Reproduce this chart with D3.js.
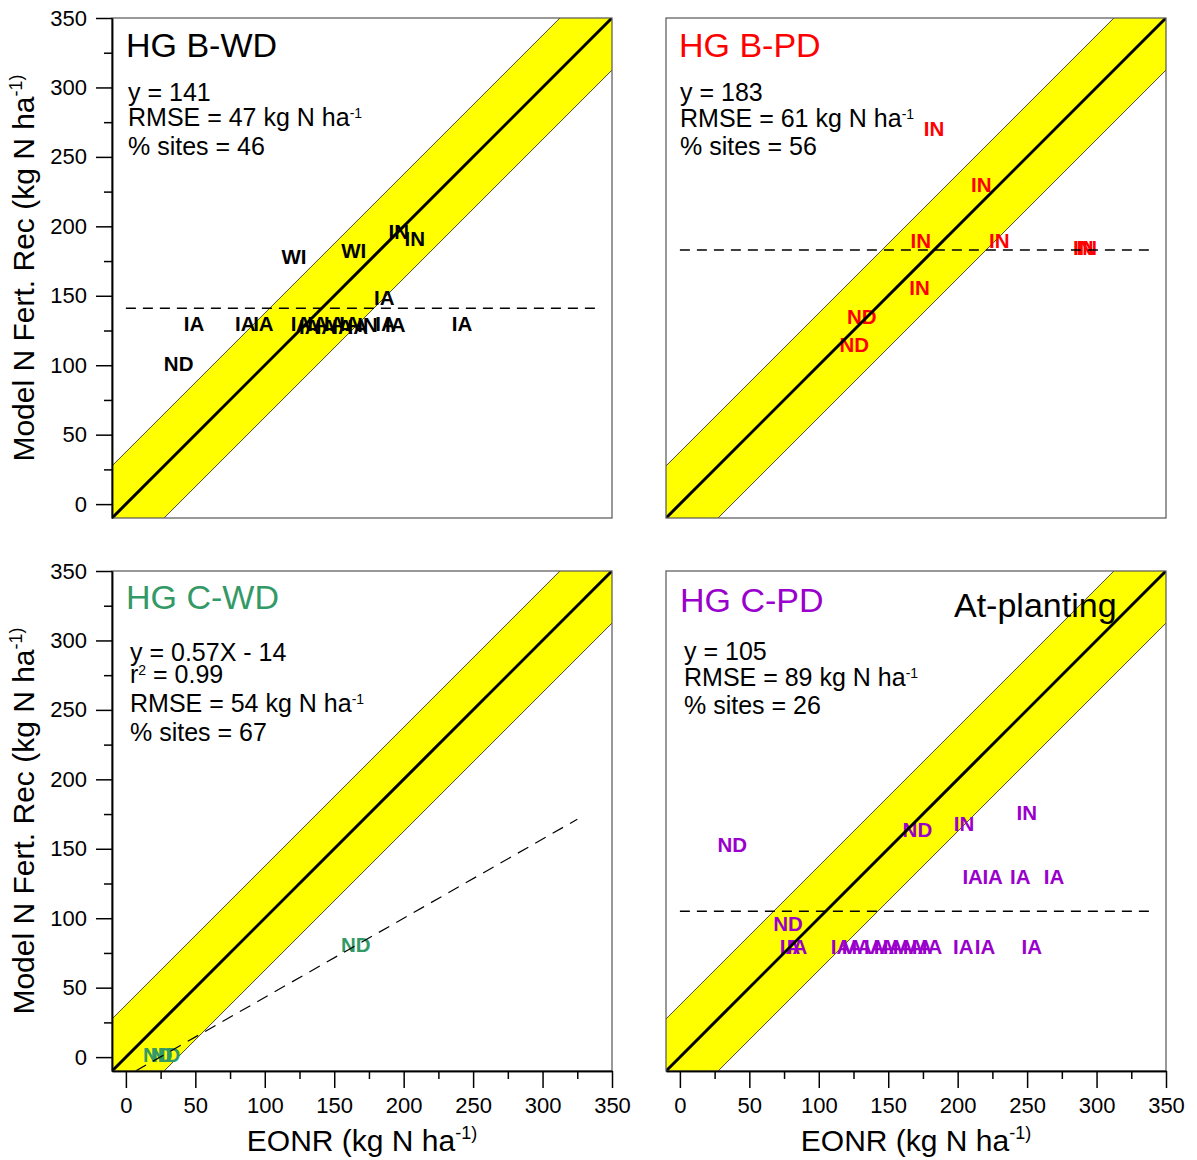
<!DOCTYPE html>
<html>
<head>
<meta charset="utf-8">
<script src="https://cdn.jsdelivr.net/npm/d3@7"></script>
<style>
  body { margin: 0; background: #fff; }
  svg text { font-family: "Liberation Sans", Arial, Helvetica, sans-serif; }
</style>
</head>
<body>
<svg id="chart" width="1197" height="1160"></svg>
<script>
// ---- data -------------------------------------------------------------
const axisDomain = [-10, 350];
const majorTicks = [0, 50, 100, 150, 200, 250, 300, 350];
const minorTicks = [25, 75, 125, 175, 225, 275, 325];
const bandHalfWidth = 37.5;          // +/- band around the 1:1 line

const panelTitles = ["HG B-WD", "HG B-PD", "HG C-WD", "HG C-PD"];
const panelColors = ["#000000", "#ff0000", "#339966", "#9900cc"];

// summary text, "^" marks a superscript
const statsBWD = ["y = 141", "RMSE = 47 kg N ha^-1", "% sites = 46"];
const statsBPD = ["y = 183", "RMSE = 61 kg N ha^-1", "% sites = 56"];
const statsCWD = ["y = 0.57X - 14", "r^2 = 0.99", "RMSE = 54 kg N ha^-1", "% sites = 67"];
const statsCPD = ["y = 105", "RMSE = 89 kg N ha^-1", "% sites = 26"];

// mean model recommendation (horizontal dashed lines); null = regression instead
const meanLines = [141, 183, null, 105];
const meanLineRange = [0, 340];
// C-WD regression: y = 0.57x - 14
const regSlope = 0.57;
const regIntercept = -14;
const regRange = [7, 325];

// site labels: [state, EONR, model N fert. rec]
const sitesBWD = [
  ["ND", 38, 101],
  ["IA", 49, 130], ["IA", 86, 130], ["IA", 99, 130],
  ["IA", 126, 130], ["IA", 132, 128], ["IA", 138, 130], ["IA", 144, 128],
  ["IA", 150, 130], ["IA", 156, 128], ["IA", 161, 130], ["IA", 167, 128],
  ["IN", 174, 129], ["IA", 187, 130], ["IA", 194, 129],
  ["IA", 242, 130], ["IA", 186, 149],
  ["WI", 121, 178], ["WI", 164, 182.5],
  ["IN", 196.5, 196], ["IN", 208, 191]
];
const sitesBPD = [
  ["IN", 183, 270], ["IN", 217, 230], ["IN", 173.5, 190], ["IN", 230, 190],
  ["IN", 290.5, 185], ["IN", 293, 185], ["IN", 172.5, 156],
  ["ND", 131, 135], ["ND", 125.5, 115]
];
const sitesCWD = [
  ["ND", 165.5, 81], ["ND", 23, 2], ["ND", 28.5, 2]
];
const sitesCPD = [
  ["ND", 37.7, 153], ["ND", 77.8, 96], ["ND", 171, 163.5],
  ["IN", 204.6, 168], ["IN", 249.7, 176],
  ["IA", 210.8, 130], ["IA", 225.2, 130], ["IA", 245.1, 130], ["IA", 269.4, 130],
  ["IA", 79.3, 79.5], ["IA", 84.3, 79.5],
  ["IA", 116, 79.5], ["IA", 124, 79.5], ["IA", 131, 79.5], ["IA", 140, 79.5],
  ["IA", 147, 79.5], ["IA", 153.4, 79.5], ["IA", 160.6, 79.5], ["IA", 167.8, 79.5],
  ["IA", 174.3, 79.5], ["IA", 181.5, 79.5],
  ["IA", 204, 79.5], ["IA", 219.7, 79.5], ["IA", 253.3, 79.5]
];

// ---- layout -----------------------------------------------------------
const plotSize = 500;
const panelLeft = [112, 666, 112, 666];
const panelTop = [18, 18, 571, 571];
const showYAxis = [true, false, true, false];
const showXAxis = [false, false, true, true];
const statsX = [128, 680, 130, 684];
const statsBaselines = [[101, 126, 155], [101, 127, 155], [661, 683, 712, 741], [660, 686, 714]];
const titleX = [126, 679, 126, 680];
const titleBaseline = [57, 57, 609, 612];

const allStats = [statsBWD, statsBPD, statsCWD, statsCPD];
const allSites = [sitesBWD, sitesBPD, sitesCWD, sitesCPD];

const svg = d3.select("#chart");

function addRichText(sel, str, supSize, supDy) {
  // split "abc^-1 def" into normal and superscript runs
  const parts = str.split(/\^(\S+)/);
  let shift = 0;
  parts.forEach((p, i) => {
    if (p === "") return;
    if (i % 2 === 1) {
      sel.append("tspan").attr("font-size", supSize).attr("dy", supDy - shift).text(p);
      shift = supDy;
    } else {
      sel.append("tspan").attr("dy", -shift).text(p);
      shift = 0;
    }
  });
}

panelTitles.forEach((title, i) => {
  const left = panelLeft[i], top = panelTop[i];
  const x = d3.scaleLinear().domain(axisDomain).range([left, left + plotSize]);
  const y = d3.scaleLinear().domain(axisDomain).range([top + plotSize, top]);

  const g = svg.append("g");
  const clipId = "clip" + i;
  svg.append("clipPath").attr("id", clipId)
    .append("rect").attr("x", left).attr("y", top)
    .attr("width", plotSize).attr("height", plotSize);

  const plot = g.append("g").attr("clip-path", `url(#${clipId})`);

  // yellow band around the 1:1 line
  const lo = axisDomain[0], hi = axisDomain[1];
  const bandPoly = [
    [lo - 50, lo - 50 + bandHalfWidth], [hi + 50, hi + 50 + bandHalfWidth],
    [hi + 50, hi + 50 - bandHalfWidth], [lo - 50, lo - 50 - bandHalfWidth]
  ];
  plot.append("path")
    .attr("d", d3.line().x(d => x(d[0])).y(d => y(d[1]))(bandPoly) + "Z")
    .attr("fill", "#ffff00").attr("stroke", "none");
  [bandHalfWidth, -bandHalfWidth].forEach(off => {
    plot.append("line")
      .attr("x1", x(lo - 50)).attr("y1", y(lo - 50 + off))
      .attr("x2", x(hi + 50)).attr("y2", y(hi + 50 + off))
      .attr("stroke", "#333").attr("stroke-width", 0.9);
  });

  // site labels
  plot.selectAll("text.site").data(allSites[i]).enter().append("text")
    .attr("class", "site")
    .attr("x", d => x(d[1])).attr("y", d => y(d[2]))
    .attr("dy", "0.36em")
    .attr("text-anchor", "middle")
    .attr("font-weight", "bold").attr("font-size", 20.5)
    .attr("fill", panelColors[i])
    .text(d => d[0]);

  // 1:1 line
  plot.append("line")
    .attr("x1", x(lo)).attr("y1", y(lo)).attr("x2", x(hi)).attr("y2", y(hi))
    .attr("stroke", "#000").attr("stroke-width", 3);

  // mean line or regression line
  if (meanLines[i] !== null) {
    plot.append("line")
      .attr("x1", x(meanLineRange[0])).attr("y1", y(meanLines[i]))
      .attr("x2", x(meanLineRange[1])).attr("y2", y(meanLines[i]))
      .attr("stroke", "#000").attr("stroke-width", 1.6)
      .attr("stroke-dasharray", "10,7");
  } else {
    plot.append("line")
      .attr("x1", x(regRange[0])).attr("y1", y(regSlope * regRange[0] + regIntercept))
      .attr("x2", x(regRange[1])).attr("y2", y(regSlope * regRange[1] + regIntercept))
      .attr("stroke", "#000").attr("stroke-width", 1.2)
      .attr("stroke-dasharray", "12,8");
  }

  // frame
  g.append("rect").attr("x", left).attr("y", top)
    .attr("width", plotSize).attr("height", plotSize)
    .attr("fill", "none").attr("stroke", "#555").attr("stroke-width", 1.2);

  // panel title
  g.append("text").attr("x", titleX[i]).attr("y", titleBaseline[i])
    .attr("font-size", 34).attr("fill", panelColors[i]).text(title);
  if (i === 3) {
    g.append("text").attr("x", 954).attr("y", 617)
      .attr("font-size", 34).attr("fill", "#000").text("At-planting");
  }

  // summary statistics
  allStats[i].forEach((line, k) => {
    const t = g.append("text").attr("x", statsX[i]).attr("y", statsBaselines[i][k])
      .attr("font-size", 25).attr("fill", "#000");
    addRichText(t, line, 14, -8);
  });

  // axes
  if (showYAxis[i]) {
    g.append("g").attr("transform", `translate(${left},0)`)
      .call(d3.axisLeft(y).tickValues(majorTicks).tickSize(16).tickSizeOuter(0).tickPadding(9));
    g.append("g").attr("transform", `translate(${left},0)`)
      .call(d3.axisLeft(y).tickValues(minorTicks).tickSize(8).tickSizeOuter(0).tickFormat(""));
    const yt = g.append("text")
      .attr("transform", `translate(34,${top + plotSize / 2}) rotate(-90)`)
      .attr("text-anchor", "middle").attr("font-size", 30).attr("fill", "#000");
    addRichText(yt, "Model N Fert. Rec (kg N ha^-1)", 18, -12);
  }
  if (showXAxis[i]) {
    g.append("g").attr("transform", `translate(0,${top + plotSize})`)
      .call(d3.axisBottom(x).tickValues(majorTicks).tickSize(17).tickSizeOuter(0).tickPadding(9));
    g.append("g").attr("transform", `translate(0,${top + plotSize})`)
      .call(d3.axisBottom(x).tickValues(minorTicks).tickSize(8).tickSizeOuter(0).tickFormat(""));
    const xt = g.append("text")
      .attr("x", left + plotSize / 2).attr("y", 1151)
      .attr("text-anchor", "middle").attr("font-size", 30).attr("fill", "#000");
    addRichText(xt, "EONR (kg N ha^-1)", 18, -12);
  }
});

svg.selectAll(".tick text")
  .attr("font-size", 22).attr("fill", "#000")
  .attr("font-family", "\"Liberation Sans\", Arial, sans-serif");
svg.selectAll(".tick line").attr("stroke", "#000").attr("stroke-width", 1.5);
svg.selectAll(".domain").attr("stroke", "#000").attr("stroke-width", 1.5);
</script>
</body>
</html>
